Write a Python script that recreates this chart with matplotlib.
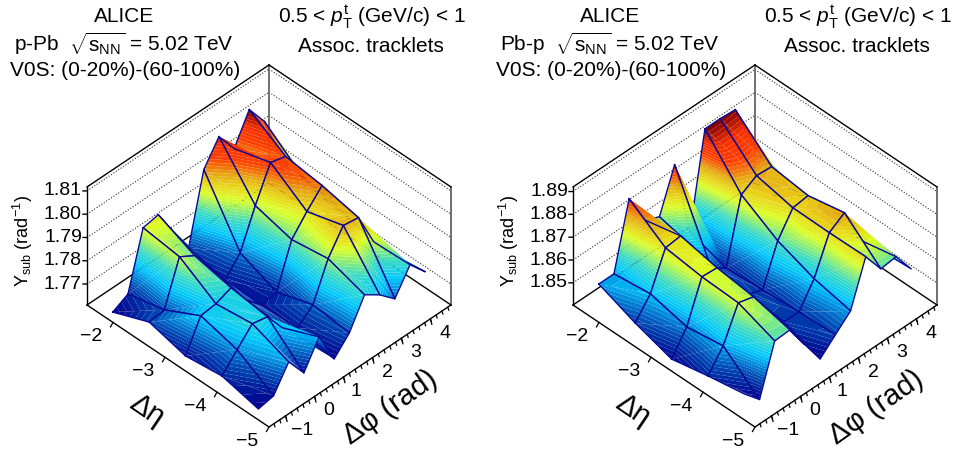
#!/usr/bin/env python3
"""Two surface panels of the subtracted yield vs (dphi, deta), drawn with mplot3d."""
import numpy as np
import matplotlib
matplotlib.use("Agg")
import matplotlib.pyplot as plt
from matplotlib.colors import LinearSegmentedColormap
from mpl_toolkits.mplot3d import proj3d
from mpl_toolkits.mplot3d.art3d import Poly3DCollection

plt.rcParams["font.family"] = ["Liberation Sans", "DejaVu Sans"]
plt.rcParams["mathtext.fontset"] = "custom"
plt.rcParams["mathtext.rm"] = "Liberation Sans"
plt.rcParams["mathtext.it"] = "Liberation Sans:italic"
plt.rcParams["mathtext.bf"] = "Liberation Sans:bold"

eta_centers = [-1.85, -2.55, -3.25, -3.95, -4.65]
phi_centers = [-1.309, -0.785, -0.262, 0.262, 0.785, 1.309, 1.833, 2.356, 2.880, 3.403, 3.927, 4.451]

# rows follow eta_centers, columns follow phi_centers
z_ppb = [
    [1.7610, 1.7644, 1.7885, 1.7897, 1.7780, 1.7668, 1.7960, 1.8058, 1.7963, 1.8087, 1.7992, 1.7806],
    [1.7672, 1.7681, 1.7865, 1.7826, 1.7730, 1.7635, 1.7707, 1.7866, 1.8008, 1.7990, 1.7869, 1.7752],
    [1.7631, 1.7760, 1.7768, 1.7793, 1.7697, 1.7632, 1.7644, 1.7825, 1.7902, 1.7970, 1.7836, 1.7727],
    [1.7650, 1.7719, 1.7787, 1.7773, 1.7682, 1.7638, 1.7694, 1.7848, 1.7947, 1.7937, 1.7790, 1.7699],
    [1.7613, 1.7626, 1.7728, 1.7637, 1.7748, 1.7610, 1.7678, 1.7798, 1.7754, 1.7693, 1.7796, 1.7722],
]
z_pbp = [
    [1.8526, 1.8526, 1.8810, 1.8674, 1.8642, 1.8826, 1.8487, 1.8894, 1.8894, 1.8889, 1.8713, 1.8558],
    [1.8462, 1.8545, 1.8702, 1.8710, 1.8604, 1.8481, 1.8436, 1.8712, 1.8751, 1.8746, 1.8618, 1.8521],
    [1.8411, 1.8507, 1.8682, 1.8677, 1.8558, 1.8470, 1.8447, 1.8617, 1.8717, 1.8726, 1.8628, 1.8540],
    [1.8444, 1.8531, 1.8675, 1.8657, 1.8555, 1.8458, 1.8457, 1.8558, 1.8715, 1.8758, 1.8595, 1.8520],
    [1.8472, 1.8403, 1.8615, 1.8619, 1.8509, 1.8403, 1.8464, 1.8524, 1.8717, 1.8619, 1.8628, 1.8530],
]
ticks_ppb = [1.77, 1.78, 1.79, 1.80, 1.81]
ticks_pbp = [1.85, 1.86, 1.87, 1.88, 1.89]
zlim_ppb = (1.761, 1.8117)
zlim_pbp = (1.8403, 1.892)
eta_ticks = [-2, -3, -4, -5]
phi_ticks = [-1, 0, 1, 2, 3, 4]
phi_minor = np.arange(-1.4, 4.61, 0.2)
phi_label_dx = [28, 20, 18, 20, 20, 20]

PHI = (-np.pi / 2, 3 * np.pi / 2)
ETA = (-5.0, -1.5)
NAVY = "#0a0a96"
rainbow = LinearSegmentedColormap.from_list("root_rainbow", [
    (0.00, "#00008c"), (0.14, "#0048b4"), (0.30, "#00c8ff"), (0.42, "#40dcc0"),
    (0.56, "#dcff28"), (0.64, "#e8d818"), (0.71, "#e6aa14"), (0.81, "#ff4000"),
    (0.90, "#f83000"), (1.00, "#7d0000"),
])


def clip(poly, level, keep_above):
    out = []
    for a, b in zip(poly, poly[1:] + poly[:1]):
        a_in = (a[2] >= level) == keep_above
        b_in = (b[2] >= level) == keep_above
        if a_in:
            out.append(a)
        if a_in != b_in:
            t = (level - a[2]) / (b[2] - a[2])
            out.append(tuple(a[k] + t * (b[k] - a[k]) for k in range(3)))
    return out


def bands(tri, levels):
    polys, colors = [], []
    for k in range(len(levels) - 1):
        poly = clip(tri, levels[k], True)
        if len(poly) > 2:
            poly = clip(poly, levels[k + 1], False)
        if len(poly) > 2:
            polys.append(poly)
            colors.append(rainbow((k + 0.5) / (len(levels) - 1)))
    return polys, colors


def draw_surface(ax, z):
    z = np.array(z)
    levels = np.linspace(z.min(), z.max() + 1e-9, 51)
    order = 10
    for i in range(len(eta_centers) - 1):
        for j in range(len(phi_centers) - 2, -1, -1):
            p = [(phi_centers[b], eta_centers[a], z[a, b]) for a, b in
                 [(i, j), (i, j + 1), (i + 1, j + 1), (i + 1, j)]]
            for tri in ([p[0], p[1], p[2]], [p[0], p[2], p[3]]):
                polys, colors = bands(tri, levels)
                if polys:
                    ax.add_collection3d(Poly3DCollection(polys, facecolors=colors, edgecolors="none",
                                                         linewidths=0, zorder=order), autolim=False)
            order += 1
            xs, ys, zs = zip(*(p + p[:1]))
            ax.plot(xs, ys, zs, color=NAVY, lw=1.0, zorder=order, solid_joinstyle="round")
            order += 1


def corner(ax, x, y, z):
    x2, y2, _ = proj3d.proj_transform(x, y, z, ax.get_proj())
    return ax.transData.transform((x2, y2))


def place_axes(fig, ax, zlim, front_px):
    # scale and move the square axes so that the box lands on the wanted pixels
    size = 500.0
    W, H = fig.bbox.width, fig.bbox.height
    ax.set_position([0, 0, size / W, size / H])
    ax.apply_aspect()
    width = corner(ax, PHI[1], ETA[0], zlim[0])[0] - corner(ax, PHI[0], ETA[1], zlim[0])[0]
    size = size * 364.0 / width
    ax.set_position([0, 0, size / W, size / H])
    ax.apply_aspect()
    front = corner(ax, PHI[0], ETA[0], zlim[0])
    ax.set_position([(front_px[0] - front[0]) / W, (H - front_px[1] - front[1]) / H, size / W, size / H])
    ax.apply_aspect()


def panel(fig, z, ticks, zlim, front_px, system):
    ax = fig.add_subplot(projection="3d", computed_zorder=False)
    ax.set_proj_type("ortho")
    ax.set_xlim(PHI)
    ax.set_ylim(ETA)
    ax.set_zlim(zlim)
    ax.set_xticks([])
    ax.set_yticks([])
    ax.set_zticks([])
    ax.set_box_aspect((1, 1, 0.618))
    ax.view_init(elev=42.1, azim=-135)
    ax.set_axis_off()
    ax.patch.set_visible(False)
    place_axes(fig, ax, zlim, front_px)

    ppz = 118.0 / (zlim[1] - zlim[0])

    def shift(x, y, zv, dx, dy):
        # move a point on screen by dx, dy pixels (dy downwards)
        a = dx / 57.9
        return x + a, y - 0.5565 * a, zv - dy / ppz

    def tick_label(point, s, ha):
        px = corner(ax, *point)
        fig.text(px[0] / fig.bbox.width, px[1] / fig.bbox.height, s, fontsize=14, ha=ha, va="center")

    # box
    box = dict(color="k", lw=1.0, zorder=3)
    x0, x1, y0, y1, z0, z1 = PHI[0], PHI[1], ETA[0], ETA[1], zlim[0], zlim[1]
    ax.plot([x0, x0], [y1, y1], [z0, z1], **box)
    ax.plot([x0, x1], [y1, y1], [z1, z1], **box)
    ax.plot([x1, x1], [y1, y0], [z1, z1], **box)
    ax.plot([x0, x1], [y1, y1], [z0, z0], **box)
    ax.plot([x1, x1], [y1, y0], [z0, z0], **box)
    ax.plot([x0, x1], [y0, y0], [z0, z0], color="k", lw=1.0, zorder=5000)
    ax.plot([x0, x0], [y0, y1], [z0, z0], color="k", lw=1.0, zorder=5000)
    ax.plot([x1, x1], [y1, y1], [z0, z1], color="#707070", lw=1.4, zorder=2)
    ax.plot([x1, x1], [y0, y0], [z0, z1], color="#707070", lw=1.4, zorder=2)

    # z grid on the two back walls, ticks and labels on the left edge
    for t in ticks:
        ax.plot([x0, x1], [y1, y1], [t, t], color="#303030", lw=0.8, ls=(0, (1, 1.6)), zorder=1)
        ax.plot([x1, x1], [y1, y0], [t, t], color="#303030", lw=0.8, ls=(0, (1, 1.6)), zorder=1)
        a = shift(x0, y1, t, -4, 0)
        ax.plot([x0, a[0]], [y1, a[1]], [t, a[2]], color="k", lw=1.0, zorder=5000)
        tick_label(shift(x0, y1, t, -5, 0), f"{t:.2f}", "right")

    draw_surface(ax, z)

    # dphi axis
    for t in phi_minor:
        a = shift(t, y0, z0, 1, 3)
        ax.plot([t, a[0]], [y0, a[1]], [z0, a[2]], color="k", lw=0.9, zorder=5000)
    for t, dx in zip(phi_ticks, phi_label_dx):
        a = shift(t, y0, z0, 1.5, 5.5)
        ax.plot([t, a[0]], [y0, a[1]], [z0, a[2]], color="k", lw=0.9, zorder=5000)
        tick_label(shift(t, y0, z0, dx, 14.5), f"\u2212{-t}" if t < 0 else str(t), "right")
    # deta axis
    for t in eta_ticks:
        a = shift(x0, t, z0, -2.5, 4.5)
        ax.plot([x0, a[0]], [t, a[1]], [z0, a[2]], color="k", lw=0.9, zorder=5000)
        tick_label(shift(x0, t, z0, -21.5, 14.5), f"\u2212{-t}", "center")

    dx = front_px[0] - 269
    lab_size = 21
    fig.text((147 + dx) / 956, 1 - 410 / 450, "\u0394\u03b7", fontsize=lab_size, rotation=-34,
             ha="center", va="center")
    fig.text((390 + dx) / 956, 1 - 407 / 450, "\u0394\u03c6 (rad)", fontsize=lab_size, rotation=35,
             ha="center", va="center")
    fig.text((23 + dx) / 956, 1 - 241 / 450, r"Y$_{\mathrm{sub}}$ (rad$^{\mathrm{-1}}$)", fontsize=13,
             rotation=90, ha="center", va="center")

    # header text
    head = dict(fontsize=15, ha="center", va="center")
    fig.text((124 + dx) / 956, 1 - 17 / 450, "ALICE", **head)
    fig.text((124 + dx) / 956, 1 - 44 / 450, system + r"  $\sqrt{\mathrm{s}_{\mathrm{NN}}}$ = 5.02 TeV", **head)
    fig.text((125 + dx) / 956, 1 - 71 / 450, "V0S: (0-20%)-(60-100%)", **head)
    fig.text((372 + dx) / 956, 1 - 16 / 450, r"0.5 < $p_{\mathrm{T}}^{\mathrm{t}}$ (GeV/c) < 1", **head)
    fig.text((371 + dx) / 956, 1 - 47 / 450, "Assoc. tracklets", **head)


fig = plt.figure(figsize=(9.56, 4.5), dpi=100)
panel(fig, z_ppb, ticks_ppb, zlim_ppb, (269, 427), "p-Pb")
panel(fig, z_pbp, ticks_pbp, zlim_pbp, (755, 427), "Pb-p")
fig.savefig("out.png", dpi=100)
